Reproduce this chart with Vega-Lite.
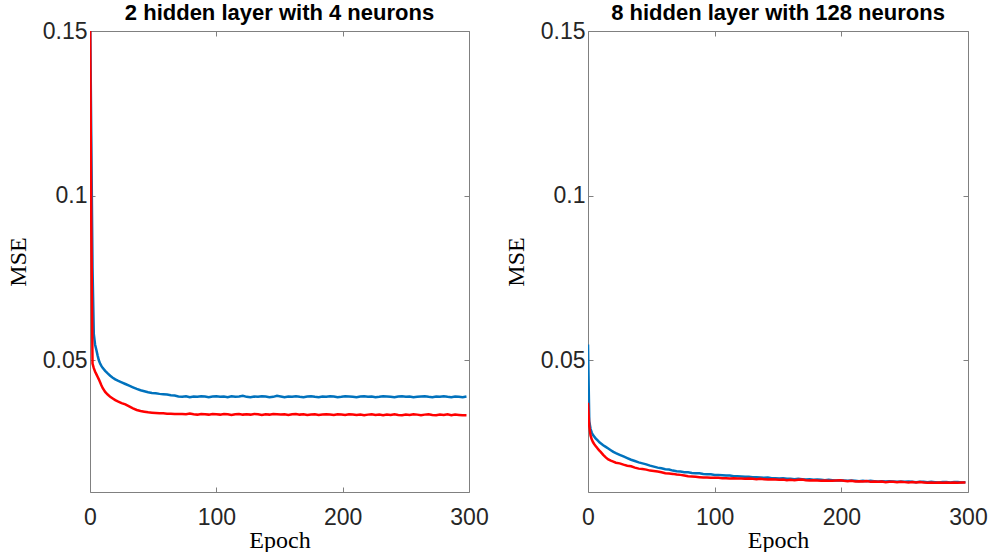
{
  "$schema": "https://vega.github.io/schema/vega-lite/v6.json",
  "padding": {"left": 6, "top": 2, "right": 2, "bottom": 0},
  "spacing": 15,
  "config": {
    "view": {"stroke": null},
    "axis": {
      "grid": false,
      "domainColor": "#808080",
      "tickColor": "#808080",
      "domainWidth": 1,
      "tickWidth": 1,
      "tickSize": -5,
      "labelFont": "Liberation Sans",
      "labelFontSize": 23,
      "labelColor": "#262626",
      "labelFlush": false,
      "labelOverlap": false,
      "titleFont": "Liberation Serif",
      "titleFontSize": 24,
      "titleFontWeight": "normal",
      "titleColor": "#000000"
    },
    "title": {"font": "Liberation Sans", "fontSize": 22, "fontWeight": "bold", "color": "#000000", "offset": -5}
  },
  "data": {"values": [
    {"epoch":0,"l_blue":0.16,"l_red":0.16,"r_blue":0.0548,"r_red":0.0371},
    {"epoch":1,"l_blue":0.118,"l_red":0.092,"r_blue":0.0315,"r_red":0.0300},
    {"epoch":2,"l_blue":0.078,"l_red":0.0490,"r_blue":0.0292,"r_red":0.0272},
    {"epoch":3,"l_blue":0.058,"l_red":0.0476,"r_blue":0.0280,"r_red":0.0259},
    {"epoch":4,"l_blue":0.0548,"l_red":0.0466,"r_blue":0.0273,"r_red":0.0251},
    {"epoch":5,"l_blue":0.0532,"l_red":0.0458,"r_blue":0.0268,"r_red":0.0245},
    {"epoch":6,"l_blue":0.0515,"l_red":0.0450,"r_blue":0.0263,"r_red":0.0240},
    {"epoch":7,"l_blue":0.0500,"l_red":0.0442,"r_blue":0.0259,"r_red":0.0235},
    {"epoch":8,"l_blue":0.0490,"l_red":0.0433,"r_blue":0.0255,"r_red":0.0230},
    {"epoch":9,"l_blue":0.0483,"l_red":0.0424,"r_blue":0.0251,"r_red":0.0226},
    {"epoch":10,"l_blue":0.0477,"l_red":0.0416,"r_blue":0.0248,"r_red":0.0222},
    {"epoch":12,"l_blue":0.0468,"l_red":0.0404,"r_blue":0.0242,"r_red":0.0213},
    {"epoch":14,"l_blue":0.0460,"l_red":0.0396,"r_blue":0.0237,"r_red":0.0205},
    {"epoch":16,"l_blue":0.0453,"l_red":0.0389,"r_blue":0.0232,"r_red":0.0199},
    {"epoch":18,"l_blue":0.0447,"l_red":0.0384,"r_blue":0.0227,"r_red":0.0195},
    {"epoch":20,"l_blue":0.0442,"l_red":0.0379,"r_blue":0.0222,"r_red":0.0192},
    {"epoch":22,"l_blue":0.0438,"l_red":0.0375,"r_blue":0.0218,"r_red":0.0189},
    {"epoch":25,"l_blue":0.0433,"l_red":0.0370,"r_blue":0.0213,"r_red":0.0187},
    {"epoch":28,"l_blue":0.0428,"l_red":0.0366,"r_blue":0.0208,"r_red":0.0183},
    {"epoch":31,"l_blue":0.0423,"l_red":0.0360,"r_blue":0.0203,"r_red":0.0180},
    {"epoch":34,"l_blue":0.0418,"l_red":0.0354,"r_blue":0.0198,"r_red":0.0178},
    {"epoch":37,"l_blue":0.0413,"l_red":0.0349,"r_blue":0.0194,"r_red":0.0174},
    {"epoch":40,"l_blue":0.0409,"l_red":0.0346,"r_blue":0.0190,"r_red":0.0171},
    {"epoch":43,"l_blue":0.0406,"l_red":0.0344,"r_blue":0.0187,"r_red":0.0170},
    {"epoch":46,"l_blue":0.0403,"l_red":0.0342,"r_blue":0.0184,"r_red":0.0168},
    {"epoch":49,"l_blue":0.0401,"l_red":0.0341,"r_blue":0.0180,"r_red":0.0165},
    {"epoch":52,"l_blue":0.0400,"l_red":0.0340,"r_blue":0.0177,"r_red":0.0164},
    {"epoch":55,"l_blue":0.0398,"l_red":0.0339,"r_blue":0.0174,"r_red":0.0162},
    {"epoch":58,"l_blue":0.0397,"l_red":0.0339,"r_blue":0.0172,"r_red":0.0160},
    {"epoch":61,"l_blue":0.0396,"l_red":0.0338,"r_blue":0.0169,"r_red":0.0157},
    {"epoch":64,"l_blue":0.0394,"l_red":0.0338,"r_blue":0.0168,"r_red":0.0156},
    {"epoch":67,"l_blue":0.0393,"l_red":0.0337,"r_blue":0.0165,"r_red":0.0155},
    {"epoch":70,"l_blue":0.0390,"l_red":0.0337,"r_blue":0.0163,"r_red":0.0153},
    {"epoch":73,"l_blue":0.0389,"l_red":0.0337,"r_blue":0.0162,"r_red":0.0152},
    {"epoch":76,"l_blue":0.0391,"l_red":0.0336,"r_blue":0.0160,"r_red":0.0150},
    {"epoch":79,"l_blue":0.0388,"l_red":0.0338,"r_blue":0.0160,"r_red":0.0148},
    {"epoch":82,"l_blue":0.0390,"l_red":0.0336,"r_blue":0.0158,"r_red":0.0147},
    {"epoch":85,"l_blue":0.0389,"l_red":0.0335,"r_blue":0.0157,"r_red":0.0146},
    {"epoch":88,"l_blue":0.0391,"l_red":0.0337,"r_blue":0.0157,"r_red":0.0145},
    {"epoch":91,"l_blue":0.0390,"l_red":0.0336,"r_blue":0.0155,"r_red":0.0144},
    {"epoch":94,"l_blue":0.0388,"l_red":0.0335,"r_blue":0.0154,"r_red":0.0144},
    {"epoch":97,"l_blue":0.0390,"l_red":0.0337,"r_blue":0.0154,"r_red":0.0143},
    {"epoch":100,"l_blue":0.0391,"l_red":0.0336,"r_blue":0.0152,"r_red":0.0143},
    {"epoch":103,"l_blue":0.0389,"l_red":0.0335,"r_blue":0.0152,"r_red":0.0143},
    {"epoch":106,"l_blue":0.0390,"l_red":0.0337,"r_blue":0.0151,"r_red":0.0142},
    {"epoch":109,"l_blue":0.0388,"l_red":0.0336,"r_blue":0.0150,"r_red":0.0142},
    {"epoch":112,"l_blue":0.0391,"l_red":0.0334,"r_blue":0.0150,"r_red":0.0141},
    {"epoch":115,"l_blue":0.0389,"l_red":0.0336,"r_blue":0.0148,"r_red":0.0142},
    {"epoch":118,"l_blue":0.0390,"l_red":0.0337,"r_blue":0.0148,"r_red":0.0141},
    {"epoch":121,"l_blue":0.0392,"l_red":0.0335,"r_blue":0.0147,"r_red":0.0141},
    {"epoch":124,"l_blue":0.0389,"l_red":0.0336,"r_blue":0.0146,"r_red":0.0140},
    {"epoch":127,"l_blue":0.0388,"l_red":0.0335,"r_blue":0.0146,"r_red":0.0141},
    {"epoch":130,"l_blue":0.0390,"l_red":0.0337,"r_blue":0.0145,"r_red":0.0140},
    {"epoch":133,"l_blue":0.0389,"l_red":0.0336,"r_blue":0.0145,"r_red":0.0139},
    {"epoch":136,"l_blue":0.0391,"l_red":0.0334,"r_blue":0.0144,"r_red":0.0140},
    {"epoch":139,"l_blue":0.0390,"l_red":0.0336,"r_blue":0.0143,"r_red":0.0139},
    {"epoch":142,"l_blue":0.0388,"l_red":0.0335,"r_blue":0.0144,"r_red":0.0138},
    {"epoch":145,"l_blue":0.0389,"l_red":0.0337,"r_blue":0.0142,"r_red":0.0139},
    {"epoch":148,"l_blue":0.0392,"l_red":0.0336,"r_blue":0.0142,"r_red":0.0138},
    {"epoch":151,"l_blue":0.0390,"l_red":0.0335,"r_blue":0.0141,"r_red":0.0137},
    {"epoch":154,"l_blue":0.0388,"l_red":0.0336,"r_blue":0.0142,"r_red":0.0138},
    {"epoch":157,"l_blue":0.0390,"l_red":0.0334,"r_blue":0.0140,"r_red":0.0136},
    {"epoch":160,"l_blue":0.0389,"l_red":0.0336,"r_blue":0.0140,"r_red":0.0137},
    {"epoch":163,"l_blue":0.0391,"l_red":0.0337,"r_blue":0.0139,"r_red":0.0136},
    {"epoch":166,"l_blue":0.0389,"l_red":0.0335,"r_blue":0.0140,"r_red":0.0137},
    {"epoch":169,"l_blue":0.0388,"l_red":0.0336,"r_blue":0.0139,"r_red":0.0138},
    {"epoch":172,"l_blue":0.0390,"l_red":0.0334,"r_blue":0.0138,"r_red":0.0136},
    {"epoch":175,"l_blue":0.0391,"l_red":0.0335,"r_blue":0.0139,"r_red":0.0135},
    {"epoch":178,"l_blue":0.0389,"l_red":0.0336,"r_blue":0.0137,"r_red":0.0136},
    {"epoch":181,"l_blue":0.0388,"l_red":0.0334,"r_blue":0.0138,"r_red":0.0135},
    {"epoch":184,"l_blue":0.0390,"l_red":0.0335,"r_blue":0.0137,"r_red":0.0134},
    {"epoch":187,"l_blue":0.0389,"l_red":0.0336,"r_blue":0.0136,"r_red":0.0135},
    {"epoch":190,"l_blue":0.0391,"l_red":0.0335,"r_blue":0.0137,"r_red":0.0134},
    {"epoch":193,"l_blue":0.0390,"l_red":0.0334,"r_blue":0.0136,"r_red":0.0134},
    {"epoch":196,"l_blue":0.0388,"l_red":0.0336,"r_blue":0.0135,"r_red":0.0135},
    {"epoch":199,"l_blue":0.0389,"l_red":0.0335,"r_blue":0.0136,"r_red":0.0136},
    {"epoch":202,"l_blue":0.0391,"l_red":0.0334,"r_blue":0.0135,"r_red":0.0134},
    {"epoch":205,"l_blue":0.0390,"l_red":0.0336,"r_blue":0.0134,"r_red":0.0133},
    {"epoch":208,"l_blue":0.0389,"l_red":0.0335,"r_blue":0.0135,"r_red":0.0134},
    {"epoch":211,"l_blue":0.0388,"l_red":0.0334,"r_blue":0.0134,"r_red":0.0132},
    {"epoch":214,"l_blue":0.0390,"l_red":0.0335,"r_blue":0.0133,"r_red":0.0133},
    {"epoch":217,"l_blue":0.0391,"l_red":0.0333,"r_blue":0.0134,"r_red":0.0132},
    {"epoch":220,"l_blue":0.0389,"l_red":0.0335,"r_blue":0.0133,"r_red":0.0133},
    {"epoch":223,"l_blue":0.0390,"l_red":0.0336,"r_blue":0.0134,"r_red":0.0131},
    {"epoch":226,"l_blue":0.0388,"l_red":0.0334,"r_blue":0.0133,"r_red":0.0132},
    {"epoch":229,"l_blue":0.0389,"l_red":0.0335,"r_blue":0.0132,"r_red":0.0131},
    {"epoch":232,"l_blue":0.0391,"l_red":0.0333,"r_blue":0.0133,"r_red":0.0132},
    {"epoch":235,"l_blue":0.0390,"l_red":0.0335,"r_blue":0.0132,"r_red":0.0130},
    {"epoch":238,"l_blue":0.0389,"l_red":0.0334,"r_blue":0.0133,"r_red":0.0131},
    {"epoch":241,"l_blue":0.0388,"l_red":0.0336,"r_blue":0.0132,"r_red":0.0131},
    {"epoch":244,"l_blue":0.0390,"l_red":0.0334,"r_blue":0.0131,"r_red":0.0130},
    {"epoch":247,"l_blue":0.0391,"l_red":0.0333,"r_blue":0.0132,"r_red":0.0131},
    {"epoch":250,"l_blue":0.0389,"l_red":0.0335,"r_blue":0.0131,"r_red":0.0130},
    {"epoch":253,"l_blue":0.0390,"l_red":0.0334,"r_blue":0.0132,"r_red":0.0129},
    {"epoch":256,"l_blue":0.0388,"l_red":0.0336,"r_blue":0.0131,"r_red":0.0130},
    {"epoch":259,"l_blue":0.0389,"l_red":0.0335,"r_blue":0.0130,"r_red":0.0129},
    {"epoch":262,"l_blue":0.0390,"l_red":0.0333,"r_blue":0.0131,"r_red":0.0130},
    {"epoch":265,"l_blue":0.0391,"l_red":0.0335,"r_blue":0.0131,"r_red":0.0129},
    {"epoch":268,"l_blue":0.0389,"l_red":0.0336,"r_blue":0.0130,"r_red":0.0128},
    {"epoch":271,"l_blue":0.0388,"l_red":0.0334,"r_blue":0.0131,"r_red":0.0129},
    {"epoch":274,"l_blue":0.0390,"l_red":0.0333,"r_blue":0.0130,"r_red":0.0128},
    {"epoch":277,"l_blue":0.0389,"l_red":0.0335,"r_blue":0.0129,"r_red":0.0129},
    {"epoch":280,"l_blue":0.0391,"l_red":0.0334,"r_blue":0.0130,"r_red":0.0128},
    {"epoch":283,"l_blue":0.0389,"l_red":0.0336,"r_blue":0.0130,"r_red":0.0129},
    {"epoch":286,"l_blue":0.0388,"l_red":0.0333,"r_blue":0.0129,"r_red":0.0128},
    {"epoch":289,"l_blue":0.0390,"l_red":0.0335,"r_blue":0.0130,"r_red":0.0129},
    {"epoch":292,"l_blue":0.0389,"l_red":0.0334,"r_blue":0.0130,"r_red":0.0128},
    {"epoch":295,"l_blue":0.0388,"l_red":0.0333,"r_blue":0.0129,"r_red":0.0129},
    {"epoch":298,"l_blue":0.0390,"l_red":0.0333,"r_blue":0.0130,"r_red":0.0129}
  ]},
  "hconcat": [
    {
      "width": 379, "height": 461,
      "title": "2 hidden layer with 4 neurons",
      "layer": [
        {
          "mark": {"type": "line", "color": "#0072BD", "strokeWidth": 2.5, "clip": true},
          "encoding": {
            "x": {"field": "epoch", "type": "quantitative", "scale": {"domain": [0, 300], "nice": false},
                  "axis": {"orient": "bottom", "values": [0, 100, 200, 300], "title": "Epoch", "labelPadding": 19, "titlePadding": -1}},
            "y": {"field": "l_blue", "type": "quantitative", "scale": {"domain": [0.01, 0.15], "nice": false, "zero": false},
                  "axis": {"orient": "left", "values": [0.05, 0.1, 0.15], "format": ".2~f", "title": "MSE", "labelPadding": 8, "titlePadding": 12}}
          }
        },
        {
          "mark": {"type": "line", "color": "#FF0000", "strokeWidth": 2.5, "clip": true},
          "encoding": {
            "x": {"field": "epoch", "type": "quantitative", "scale": {"domain": [0, 300], "nice": false},
                  "axis": {"orient": "top", "values": [0, 100, 200, 300], "labels": false, "title": null, "minExtent": 0, "maxExtent": 0}},
            "y": {"field": "l_red", "type": "quantitative", "scale": {"domain": [0.01, 0.15], "nice": false, "zero": false},
                  "axis": {"orient": "right", "values": [0.05, 0.1, 0.15], "labels": false, "title": null, "minExtent": 0, "maxExtent": 0}}
          }
        }
      ],
      "resolve": {"axis": {"x": "independent", "y": "independent"}}
    },
    {
      "width": 380, "height": 461,
      "title": "8 hidden layer with 128 neurons",
      "layer": [
        {
          "mark": {"type": "line", "color": "#0072BD", "strokeWidth": 2.5, "clip": true},
          "encoding": {
            "x": {"field": "epoch", "type": "quantitative", "scale": {"domain": [0, 300], "nice": false},
                  "axis": {"orient": "bottom", "values": [0, 100, 200, 300], "title": "Epoch", "labelPadding": 19, "titlePadding": -1}},
            "y": {"field": "r_blue", "type": "quantitative", "scale": {"domain": [0.01, 0.15], "nice": false, "zero": false},
                  "axis": {"orient": "left", "values": [0.05, 0.1, 0.15], "format": ".2~f", "title": "MSE", "labelPadding": 8, "titlePadding": 12}}
          }
        },
        {
          "mark": {"type": "line", "color": "#FF0000", "strokeWidth": 2.5, "clip": true},
          "encoding": {
            "x": {"field": "epoch", "type": "quantitative", "scale": {"domain": [0, 300], "nice": false},
                  "axis": {"orient": "top", "values": [0, 100, 200, 300], "labels": false, "title": null, "minExtent": 0, "maxExtent": 0}},
            "y": {"field": "r_red", "type": "quantitative", "scale": {"domain": [0.01, 0.15], "nice": false, "zero": false},
                  "axis": {"orient": "right", "values": [0.05, 0.1, 0.15], "labels": false, "title": null, "minExtent": 0, "maxExtent": 0}}
          }
        }
      ],
      "resolve": {"axis": {"x": "independent", "y": "independent"}}
    }
  ]
}
